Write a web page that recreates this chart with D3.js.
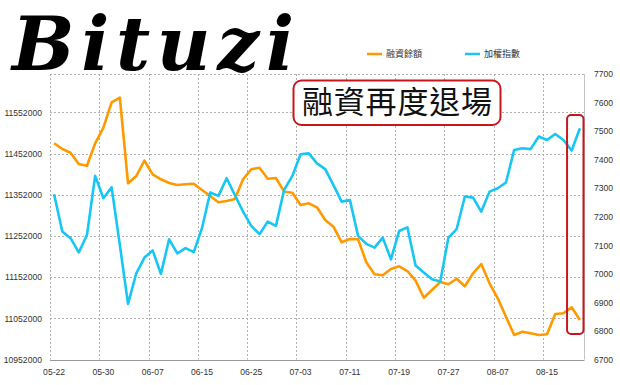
<!DOCTYPE html>
<html lang="zh-Hant">
<head>
<meta charset="UTF-8">
<title>融資餘額 vs 加權指數</title>
<script src="https://cdn.jsdelivr.net/npm/d3@7/dist/d3.min.js"></script>
<style>
  body { margin: 0; background: #fff; }
  svg { display: block; }
</style>
</head>
<body>
<svg id="chart" width="620" height="385"></svg>
<script>
// trading days (2012)
var dates = ["05-22","05-23","05-24","05-25","05-28","05-29","05-30","05-31","06-01","06-04",
  "06-05","06-06","06-07","06-08","06-11","06-12","06-13","06-14","06-15","06-18",
  "06-19","06-20","06-21","06-22","06-25","06-26","06-27","06-28","06-29","07-02",
  "07-03","07-04","07-05","07-06","07-09","07-10","07-11","07-12","07-13","07-16",
  "07-17","07-18","07-19","07-20","07-23","07-24","07-25","07-26","07-27","07-30",
  "07-31","08-01","08-03","08-06","08-07","08-08","08-09","08-10","08-13","08-14",
  "08-15","08-16","08-17","08-20","08-21"];

// 融資餘額 (left axis)
var marginBal = [11476800,11462900,11454000,11426500,11422400,11476800,11514600,11576300,11587400,11379700,
  11397400,11434500,11401500,11389400,11380400,11375600,11377300,11378700,11363400,11348900,
  11333600,11336700,11341600,11389400,11413700,11417500,11390800,11392500,11359300,11356900,
  11327000,11331100,11321400,11290600,11274400,11236500,11244500,11243800,11188000,11158800,
  11156400,11171700,11178200,11166800,11143300,11102000,11120700,11140100,11134600,11148100,
  11129700,11161300,11183800,11137000,11100600,11055900,11011500,11019500,11015600,11011500,
  11013200,11062500,11064200,11078700,11047900];

// 加權指數 (right axis)
var taiex = [7279,7148,7125,7075,7136,7343,7265,7303,7101,6895,
  7002,7057,7082,7000,7121,7072,7090,7076,7160,7285,
  7273,7335,7276,7218,7168,7139,7183,7168,7294,7343,
  7419,7422,7387,7367,7311,7253,7259,7133,7105,7092,
  7127,7051,7150,7163,7029,7005,6981,6973,7127,7157,
  7271,7267,7218,7288,7300,7320,7434,7440,7437,7481,
  7469,7490,7469,7432,7510];

var leftTicks = [10952000,11052000,11152000,11252000,11352000,11452000,11552000];
var rightTicks = [6700,6800,6900,7000,7100,7200,7300,7400,7500,7600,7700];
var xTickLabels = ["05-22","05-30","06-07","06-15","06-25","07-03","07-11","07-19","07-27","08-07","08-15"];

var svg = d3.select("#chart");
var pLeft = 50, pRight = 584, pTop = 74, pBottom = 359.5;
var orange = "#ff9900", blue = "#17c6f3", red = "#c8161d";

var x = d3.scaleBand().domain(dates).range([pLeft, pRight]).padding(0);
var yL = d3.scaleLinear().domain([10952000, 11645000]).range([pBottom, pTop]);
var yR = d3.scaleLinear().domain([6700, 7700]).range([pBottom, pTop]);
var cx = function(d) { return x(d) + x.bandwidth() / 2; };

// gridlines
var grid = svg.append("g").attr("stroke", "#b0b0b0").attr("stroke-dasharray", "2,2").attr("stroke-width", 1);
grid.selectAll(".h").data(leftTicks.slice(1).concat([11645000])).enter().append("line")
  .attr("x1", pLeft).attr("x2", pRight)
  .attr("y1", function(d) { return Math.round(yL(d)) + 0.5; })
  .attr("y2", function(d) { return Math.round(yL(d)) + 0.5; });
grid.selectAll(".v").data(xTickLabels).enter().append("line")
  .attr("x1", function(d) { return Math.round(x(d)) + 0.5; })
  .attr("x2", function(d) { return Math.round(x(d)) + 0.5; })
  .attr("y1", pTop).attr("y2", pBottom);

// frame
svg.append("line").attr("x1", pLeft).attr("x2", pRight + 0.5)
  .attr("y1", Math.round(pBottom) + 0.5).attr("y2", Math.round(pBottom) + 0.5)
  .attr("stroke", "#9a9a9a");
svg.append("line").attr("x1", pRight + 0.5).attr("x2", pRight + 0.5).attr("y1", pTop).attr("y2", pBottom)
  .attr("stroke", "#c4c4c4");

// axes
var axL = svg.append("g").attr("transform", "translate(" + (pLeft - 8) + ",0)")
  .call(d3.axisLeft(yL).tickValues(leftTicks).tickSize(0).tickPadding(0).tickFormat(d3.format("d")));
var axR = svg.append("g").attr("transform", "translate(" + (pRight + 10) + ",0)")
  .call(d3.axisRight(yR).tickValues(rightTicks).tickSize(0).tickPadding(0).tickFormat(d3.format("d")));
var axB = svg.append("g").attr("transform", "translate(0," + (pBottom + 9) + ")")
  .call(d3.axisBottom(x).tickValues(xTickLabels).tickSize(0).tickPadding(0));
[axL, axR, axB].forEach(function(a) {
  a.select(".domain").remove();
  a.selectAll("text").attr("fill", "#333").style("font-family", "'Liberation Sans', Arial, sans-serif")
    .style("font-size", "8.6px");
});

// lines
var lineL = d3.line().x(function(d, i) { return cx(dates[i]); }).y(function(d) { return yL(d); });
var lineR = d3.line().x(function(d, i) { return cx(dates[i]); }).y(function(d) { return yR(d); });
svg.append("path").datum(marginBal).attr("d", lineL).attr("fill", "none")
  .attr("stroke", orange).attr("stroke-width", 2.6).attr("stroke-linejoin", "round");
svg.append("path").datum(taiex).attr("d", lineR).attr("fill", "none")
  .attr("stroke", blue).attr("stroke-width", 2.6).attr("stroke-linejoin", "round");

// legend
var legend = [{name: "融資餘額", color: orange, x: 367}, {name: "加權指數", color: blue, x: 465}];
var lg = svg.append("g").selectAll("g").data(legend).enter().append("g")
  .attr("transform", function(d) { return "translate(" + d.x + ",54)"; });
lg.append("line").attr("x1", 0).attr("x2", 15).attr("stroke", function(d) { return d.color; }).attr("stroke-width", 2.5);
lg.append("text").attr("x", 19).attr("dy", "0.35em").text(function(d) { return d.name; })
  .style("font-family", "'Noto Sans CJK TC', sans-serif").style("font-size", "9px").attr("fill", "#333");

// annotation
svg.append("rect").attr("x", 293.5).attr("y", 80.5).attr("width", 207).attr("height", 44.5).attr("rx", 8)
  .attr("fill", "#fff").attr("stroke", red).attr("stroke-width", 2);
svg.append("text").attr("x", 397).attr("y", 102).attr("dy", "0.36em").attr("text-anchor", "middle")
  .text("融資再度退場").style("font-family", "'Noto Sans CJK TC', sans-serif").style("font-size", "31px")
  .attr("fill", "#111").attr("textLength", 190).attr("lengthAdjust", "spacing");

// highlight last days
var hl0 = dates[dates.length - 2];
svg.append("rect").attr("x", x(hl0) - 0.5).attr("y", 115).attr("width", pRight - x(hl0)).attr("height", 219).attr("rx", 4)
  .attr("fill", "none").attr("stroke", red).attr("stroke-width", 2);

// logo
svg.append("text").attr("x", 12).attr("y", 70).text("Bituzi")
  .style("font-family", "'DejaVu Serif', serif").style("font-style", "italic").style("font-weight", "bold")
  .style("font-size", "74px").attr("fill", "#000").attr("textLength", 282).attr("lengthAdjust", "spacing");
</script>
</body>
</html>
